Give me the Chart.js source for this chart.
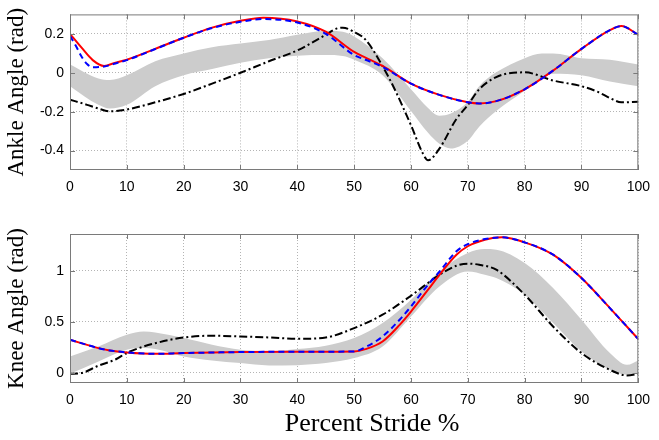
<!DOCTYPE html>
<html>
<head>
<meta charset="utf-8">
<script src="https://cdn.jsdelivr.net/npm/chart.js@4.4.0/dist/chart.umd.min.js"></script>
<style>
  body { margin: 0; background: #fff; }
  #wrap { position: relative; width: 659px; height: 440px; }
  canvas { position: absolute; left: 0; }
</style>
</head>
<body>
<div id="wrap">
  <canvas id="ankle" width="659" height="200" style="top:0"></canvas>
  <canvas id="knee" width="659" height="240" style="top:200px"></canvas>
</div>
<script>
// tick labels
const xTicks = [0, 10, 20, 30, 40, 50, 60, 70, 80, 90, 100];
const ankleTicks = [-0.4, -0.2, 0, 0.2];
const kneeTicks = [0, 0.5, 1];

// ankle angle (rad)
const ankleRedX = [0, 2, 4, 6, 8, 10, 15, 20, 25, 30, 34, 40, 45, 50, 52, 55, 60, 65, 70, 72, 75, 80, 85, 90, 95, 97, 100];
const ankleRed = [0.2, 0.13, 0.065, 0.035, 0.052, 0.067, 0.123, 0.18, 0.232, 0.267, 0.283, 0.264, 0.211, 0.107, 0.078, 0.035, -0.056, -0.114, -0.152, -0.158, -0.146, -0.085, 0.011, 0.123, 0.219, 0.24, 0.195];
const ankleBlueX = [0, 1, 2, 3, 4, 6, 8, 10, 15, 20, 25, 30, 34, 40, 45, 50, 52, 55, 60, 65, 70, 72, 75, 80, 85, 90, 95, 97, 100];
const ankleBlue = [0.19, 0.14, 0.085, 0.045, 0.028, 0.032, 0.048, 0.065, 0.122, 0.18, 0.23, 0.262, 0.276, 0.258, 0.2, 0.091, 0.067, 0.03, -0.056, -0.114, -0.152, -0.158, -0.146, -0.085, 0.011, 0.123, 0.219, 0.24, 0.195];
const ankleBlackX = [0, 3, 5, 7, 10, 15, 20, 25, 30, 35, 40, 45, 47, 48, 50, 52, 55, 57, 60, 62, 63, 65, 68, 70, 72, 75, 78, 80, 85, 90, 93, 95, 97, 100];
const ankleBlack = [-0.138, -0.165, -0.184, -0.198, -0.189, -0.152, -0.109, -0.056, 0.0, 0.059, 0.115, 0.195, 0.228, 0.232, 0.21, 0.17, 0.034, -0.077, -0.27, -0.41, -0.45, -0.39, -0.237, -0.166, -0.085, -0.022, 0.0, 0.002, -0.04, -0.069, -0.1, -0.13, -0.152, -0.149];
const ankleBandX = [0, 5, 7, 10, 15, 20, 25, 30, 35, 40, 45, 48, 50, 55, 60, 63, 65, 67, 70, 72, 75, 80, 83, 85, 90, 95, 100];
const ankleBandHi = [0.043, -0.029, -0.037, -0.013, 0.059, 0.099, 0.131, 0.15, 0.168, 0.195, 0.216, 0.211, 0.187, 0.075, -0.085, -0.181, -0.221, -0.21, -0.149, -0.069, 0.002, 0.075, 0.099, 0.099, 0.075, 0.067, 0.043];
const ankleBandLo = [-0.069, -0.165, -0.184, -0.165, -0.069, -0.013, 0.019, 0.051, 0.075, 0.088, 0.091, 0.086, 0.067, -0.013, -0.197, -0.309, -0.365, -0.389, -0.349, -0.277, -0.197, -0.093, -0.029, -0.005, -0.013, -0.045, -0.069];

// knee angle (rad)
const kneeLineX = [0, 5, 7, 10, 15, 20, 30, 40, 50, 52, 55, 58, 60, 63, 65, 68, 70, 73, 76, 80, 85, 90, 95, 100];
const kneeRed = [0.324, 0.242, 0.219, 0.2, 0.186, 0.193, 0.203, 0.206, 0.209, 0.232, 0.307, 0.47, 0.6, 0.814, 0.96, 1.157, 1.24, 1.304, 1.327, 1.278, 1.157, 0.928, 0.634, 0.33];
const kneeBlue = [0.324, 0.242, 0.219, 0.2, 0.186, 0.193, 0.203, 0.206, 0.209, 0.252, 0.356, 0.52, 0.65, 0.863, 0.99, 1.19, 1.26, 1.31, 1.327, 1.278, 1.157, 0.928, 0.634, 0.33];
const kneeBlackX = [0, 2, 5, 8, 10, 13, 15, 20, 25, 30, 35, 40, 45, 50, 55, 60, 65, 68, 70, 72, 75, 80, 85, 90, 95, 98, 100];
const kneeBlack = [-0.01, -0.003, 0.07, 0.13, 0.195, 0.258, 0.29, 0.346, 0.363, 0.356, 0.346, 0.333, 0.346, 0.438, 0.569, 0.755, 0.96, 1.049, 1.069, 1.059, 1.01, 0.765, 0.454, 0.193, 0.029, -0.026, -0.01];
const kneeBandX = [0, 5, 10, 13, 15, 20, 25, 30, 35, 40, 45, 50, 55, 60, 65, 70, 73, 75, 80, 85, 90, 95, 98, 100];
const kneeBandHi = [0.16, 0.258, 0.373, 0.405, 0.395, 0.34, 0.275, 0.225, 0.209, 0.232, 0.265, 0.34, 0.487, 0.716, 0.993, 1.173, 1.212, 1.206, 1.075, 0.83, 0.52, 0.193, 0.078, 0.121];
const kneeBandLo = [-0.01, 0.111, 0.225, 0.242, 0.232, 0.16, 0.121, 0.095, 0.072, 0.075, 0.095, 0.144, 0.258, 0.552, 0.846, 0.993, 0.961, 0.928, 0.765, 0.487, 0.209, 0.029, -0.02, -0.003];

function pts(xs, ys) {
  return xs.map((x, i) => ({ x: x, y: ys[i] }));
}

// box round the plot with inward ticks, like the matlab axes
const framePlugin = {
  id: 'frame',
  afterDatasetsDraw(chart) {
    const a = chart.chartArea, ctx = chart.ctx;
    const xs = chart.scales.x, ys = chart.scales.y;
    ctx.save();
    ctx.strokeStyle = '#7a7a7a';
    ctx.lineWidth = 1;
    ctx.strokeRect(a.left + 0.5, a.top + 0.5, a.right - a.left - 1, a.bottom - a.top - 1);
    ctx.beginPath();
    xTicks.forEach(v => {
      const px = Math.round(xs.getPixelForValue(v)) + 0.5;
      ctx.moveTo(px, a.bottom); ctx.lineTo(px, a.bottom - 5);
      ctx.moveTo(px, a.top); ctx.lineTo(px, a.top + 5);
    });
    ys.ticks.forEach(t => {
      const py = Math.round(ys.getPixelForValue(t.value)) + 0.5;
      ctx.moveTo(a.left, py); ctx.lineTo(a.left + 5, py);
      ctx.moveTo(a.right, py); ctx.lineTo(a.right - 5, py);
    });
    ctx.stroke();
    const lbl = chart.options.plugins.frame.xLabel;
    if (lbl) {
      ctx.fillStyle = '#000';
      ctx.font = '26px "Liberation Serif"';
      ctx.textAlign = 'center';
      ctx.textBaseline = 'middle';
      ctx.fillText(lbl, (a.left + a.right) / 2 + 18, chart.height - 16);
    }
    ctx.restore();
  }
};

function makeChart(id, red, blue, black, bandHi, bandLo, yMin, yMax, yTicks, yTitle, padTop, xHeight, xLabel) {
  const line = (label, data, color, width, dash, order) => ({
    label: label, data: data, borderColor: color, borderWidth: width, borderDash: dash,
    pointRadius: 0, fill: false, cubicInterpolationMode: 'monotone', order: order
  });
  new Chart(document.getElementById(id), {
    type: 'line',
    data: {
      datasets: [
        line('blue', blue, '#0000ff', 2, [6, 4], 1),
        line('red', red, '#ff0000', 2, [], 2),
        line('black', black, '#000000', 2, [8, 3, 2, 3], 3),
        { label: 'band hi', data: bandHi, borderWidth: 0, pointRadius: 0, backgroundColor: '#cccccc',
          fill: '+1', cubicInterpolationMode: 'monotone', order: 4 },
        { label: 'band lo', data: bandLo, borderWidth: 0, pointRadius: 0, fill: false,
          cubicInterpolationMode: 'monotone', order: 5 }
      ]
    },
    options: {
      responsive: false,
      animation: false,
      layout: { padding: { left: 0, right: 13, top: padTop, bottom: 0 } },
      plugins: { legend: { display: false }, tooltip: { enabled: false }, frame: { xLabel: xLabel } },
      scales: {
        x: {
          type: 'linear', min: 0, max: 100,
          afterBuildTicks: s => { s.ticks = xTicks.map(v => ({ value: v })); },
          afterFit: s => { s.height = xHeight; },
          ticks: { padding: 9, color: '#000', font: { family: 'Liberation Sans', size: 14 }, maxRotation: 0,
                   callback: v => String(v) },
          grid: { color: '#b4b4b4', lineWidth: 1, drawTicks: false },
          border: { display: false, dash: [1, 2] }
        },
        y: {
          min: yMin, max: yMax,
          afterBuildTicks: s => { s.ticks = yTicks.map(v => ({ value: v })); },
          afterFit: s => { s.width = 70; },
          ticks: { padding: 6, color: '#000', font: { family: 'Liberation Sans', size: 14 },
                   callback: v => String(v) },
          grid: { color: '#b4b4b4', lineWidth: 1, drawTicks: false },
          border: { display: false, dash: [1, 2] },
          title: { display: true, text: yTitle, color: '#000', padding: { top: 3, bottom: 0 },
                   font: { family: 'Liberation Serif', size: 23 } }
        }
      }
    },
    plugins: [framePlugin]
  });
}

makeChart('ankle', pts(ankleRedX, ankleRed), pts(ankleBlueX, ankleBlue), pts(ankleBlackX, ankleBlack),
  pts(ankleBandX, ankleBandHi), pts(ankleBandX, ankleBandLo), -0.5, 0.3, ankleTicks, 'Ankle Angle (rad)', 3, 30, '');
makeChart('knee', pts(kneeLineX, kneeRed), pts(kneeLineX, kneeBlue), pts(kneeBlackX, kneeBlack),
  pts(kneeBandX, kneeBandHi), pts(kneeBandX, kneeBandLo), -0.1, 1.36, kneeTicks, 'Knee Angle (rad)', 34, 57, 'Percent Stride %');
</script>
</body>
</html>
